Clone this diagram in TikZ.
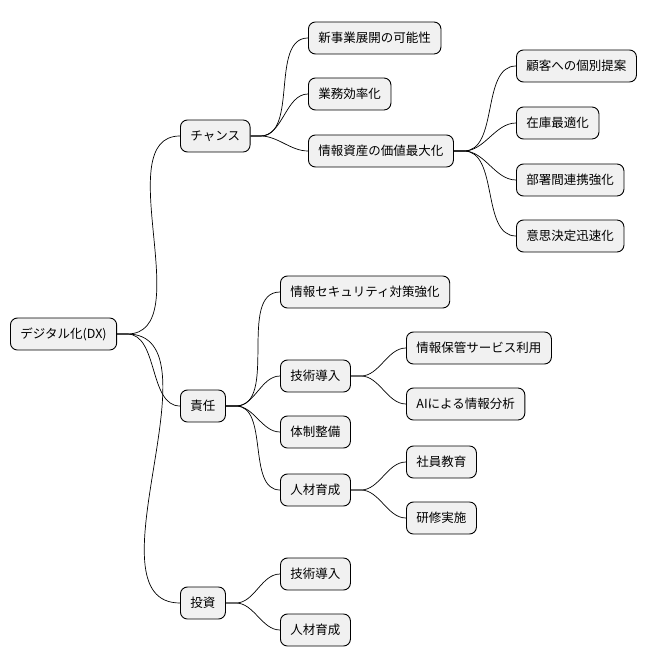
\documentclass[tikz,border=0pt]{standalone}
\usepackage{fontspec}
\setmainfont{Noto Sans CJK JP}
\usetikzlibrary{positioning}
\definecolor{boxfill}{HTML}{F1F1F1}
\tikzset{
 idea/.style={draw=black,line width=0.9pt,fill=boxfill,rounded corners=7pt,
   minimum height=32pt,inner xsep=10pt,anchor=west,font=\fontsize{12.5}{14}\selectfont},
 branch/.style={line width=0.7pt,out=0,in=180,looseness=0.9}
}
\begin{document}
\begin{tikzpicture}[x=1pt,y=-1pt]
 \useasboundingbox (0,0) rectangle (660,668);

 \node[idea,name=dx    ] at (10,334)  {デジタル化(DX)};

 \node[idea,name=chance] at (180,136) {チャンス};
 \node[idea,name=newbiz] at (308,38)  {新事業展開の可能性};
 \node[idea,name=effic ] at (308,94)  {業務効率化};
 \node[idea,name=asset ] at (308,151) {情報資産の価値最大化};
 \node[idea,name=cust  ] at (516,66)  {顧客への個別提案};
 \node[idea,name=stock ] at (516,123) {在庫最適化};
 \node[idea,name=dept  ] at (516,180) {部署間連携強化};
 \node[idea,name=decide] at (516,236) {意思決定迅速化};

 \node[idea,name=duty  ] at (180,406) {責任};
 \node[idea,name=secur ] at (280,292) {情報セキュリティ対策強化};
 \node[idea,name=tech  ] at (280,376) {技術導入};
 \node[idea,name=store ] at (406,348) {情報保管サービス利用};
 \node[idea,name=ai    ] at (406,404) {AIによる情報分析};
 \node[idea,name=system] at (280,432) {体制整備};
 \node[idea,name=talent] at (280,490) {人材育成};
 \node[idea,name=staff ] at (406,462) {社員教育};
 \node[idea,name=train ] at (406,518) {研修実施};

 \node[idea,name=invest] at (180,603) {投資};
 \node[idea,name=techB ] at (280,574) {技術導入};
 \node[idea,name=talB  ] at (280,630) {人材育成};

 \foreach \p/\c in {dx/chance,dx/duty,dx/invest,
                    chance/newbiz,chance/effic,chance/asset,
                    asset/cust,asset/stock,asset/dept,asset/decide,
                    duty/secur,duty/tech,duty/system,duty/talent,
                    tech/store,tech/ai,talent/staff,talent/train,
                    invest/techB,invest/talB}
   \draw[branch] (\p.east) -- ++(10,0) to (\c.west);

\end{tikzpicture}
\end{document}
